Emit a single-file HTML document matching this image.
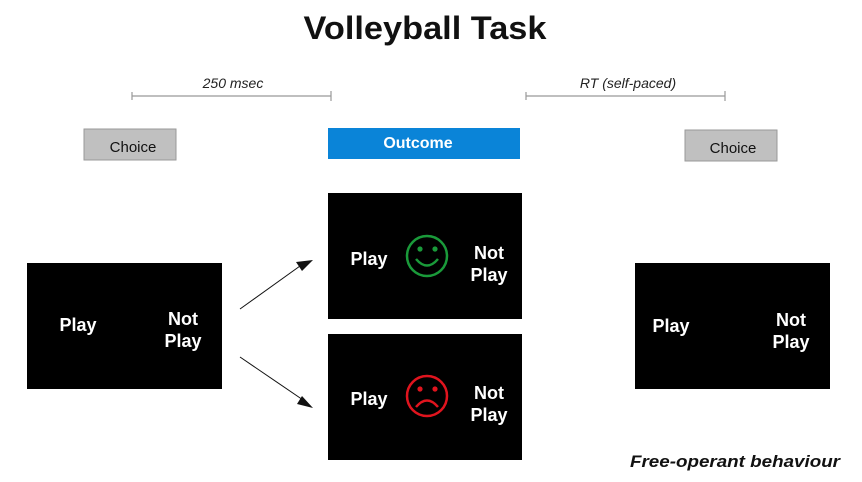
<!DOCTYPE html>
<html><head><style>body{margin:0;background:#fff}</style></head><body>
<svg width="862" height="477" xmlns="http://www.w3.org/2000/svg" font-family="Liberation Sans, sans-serif">
<rect width="862" height="477" fill="#fff"/>
<text x="425" y="39" text-anchor="middle" font-size="32" font-weight="bold" fill="#111" textLength="243" lengthAdjust="spacingAndGlyphs">Volleyball Task</text>
<g stroke="#999" stroke-width="1.2">
<line x1="132" y1="96" x2="331" y2="96"/><line x1="132" y1="92" x2="132" y2="100"/><line x1="331" y1="91" x2="331" y2="101"/>
<line x1="526" y1="96" x2="725" y2="96"/><line x1="526" y1="92" x2="526" y2="100"/><line x1="725" y1="91" x2="725" y2="101"/>
</g>
<text x="233" y="88" text-anchor="middle" font-size="14" font-style="italic" fill="#222">250 msec</text>
<text x="628" y="88" text-anchor="middle" font-size="14" font-style="italic" fill="#222">RT (self-paced)</text>
<rect x="84" y="129" width="92" height="31" fill="#c0c0c0" stroke="#999"/>
<text x="133" y="152" text-anchor="middle" font-size="15" fill="#111">Choice</text>
<rect x="328" y="128" width="192" height="31" fill="#0a84d8"/>
<text x="418" y="148" text-anchor="middle" font-size="16" font-weight="bold" fill="#fff">Outcome</text>
<rect x="685" y="130" width="92" height="31" fill="#c0c0c0" stroke="#999"/>
<text x="733" y="153" text-anchor="middle" font-size="15" fill="#111">Choice</text>
<g fill="#000"><rect x="27" y="263" width="195" height="126"/><rect x="328" y="193" width="194" height="126"/><rect x="328" y="334" width="194" height="126"/><rect x="635" y="263" width="195" height="126"/></g>
<g fill="#fff" font-weight="bold" font-size="18">
<text x="78" y="331" text-anchor="middle">Play</text><text x="183" y="325" text-anchor="middle">Not</text><text x="183" y="347" text-anchor="middle">Play</text>
<text x="369" y="265" text-anchor="middle">Play</text><text x="489" y="259" text-anchor="middle">Not</text><text x="489" y="281" text-anchor="middle">Play</text>
<text x="369" y="405" text-anchor="middle">Play</text><text x="489" y="399" text-anchor="middle">Not</text><text x="489" y="421" text-anchor="middle">Play</text>
<text x="671" y="332" text-anchor="middle">Play</text><text x="791" y="326" text-anchor="middle">Not</text><text x="791" y="348" text-anchor="middle">Play</text>
</g>
<g stroke="#1a9a3a" stroke-width="2.5" fill="none"><circle cx="427" cy="256" r="20"/><path d="M416 259 Q427 272 438 259"/></g>
<g fill="#1a9a3a"><circle cx="420" cy="249" r="2.6"/><circle cx="435" cy="249" r="2.6"/></g>
<g stroke="#e0141e" stroke-width="2.5" fill="none"><circle cx="427" cy="396" r="20"/><path d="M416 407 Q427 394 438 407"/></g>
<g fill="#e0141e"><circle cx="420" cy="389" r="2.6"/><circle cx="435" cy="389" r="2.6"/></g>
<g stroke="#111" stroke-width="1"><line x1="240" y1="309" x2="300" y2="266"/><line x1="240" y1="357" x2="306" y2="402"/></g>
<polygon points="313,260 296,262 302,271" fill="#111"/>
<polygon points="313,408 302,396 297,404" fill="#111"/>
<text x="630" y="467" font-size="17" font-weight="bold" font-style="italic" fill="#111" textLength="210" lengthAdjust="spacingAndGlyphs">Free-operant behaviour</text>
</svg>
</body></html>
